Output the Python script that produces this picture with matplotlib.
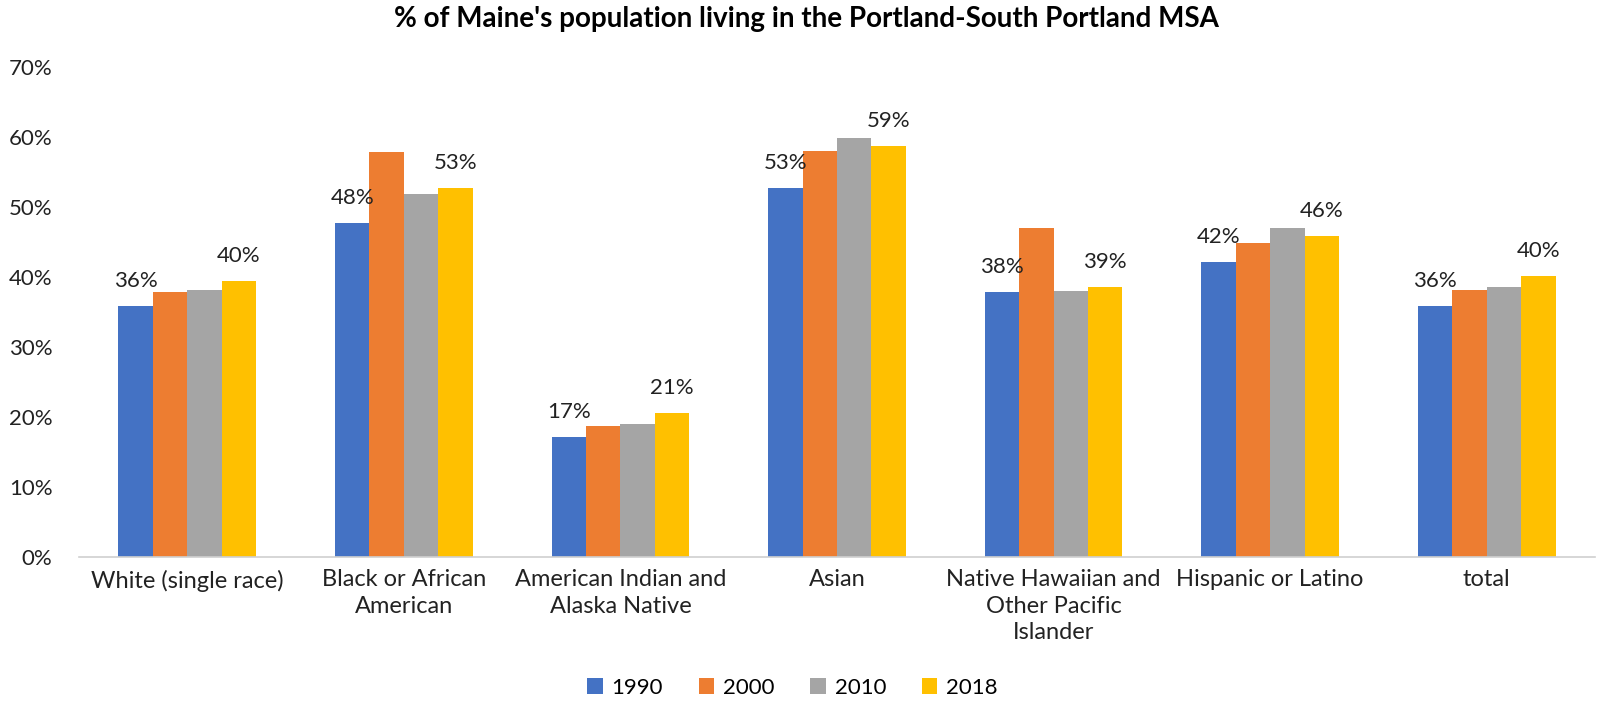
import numpy as np
import matplotlib
matplotlib.use("Agg")
import matplotlib.pyplot as plt
from matplotlib.ticker import PercentFormatter

plt.rcParams['font.family'] = ['Lato', 'DejaVu Sans']

categories = ["White (single race)", "Black or African\nAmerican", "American Indian and\nAlaska Native",
              "Asian", "Native Hawaiian and\nOther Pacific\nIslander", "Hispanic or Latino", "total"]
years = ["1990", "2000", "2010", "2018"]
v1990 = [0.358, 0.477, 0.172, 0.527, 0.378, 0.422, 0.359]
v2000 = [0.379, 0.579, 0.187, 0.580, 0.470, 0.449, 0.382]
v2010 = [0.382, 0.519, 0.190, 0.598, 0.380, 0.470, 0.386]
v2018 = [0.395, 0.527, 0.206, 0.587, 0.386, 0.459, 0.401]
colors = ['#4472C4', '#ED7D31', '#A5A5A5', '#FFC000']

series = [v1990, v2000, v2010, v2018]
labelled = ["1990", "2018"]

fig = plt.figure(figsize=(16.01, 7.21), dpi=100)
ax = fig.add_axes([79/1601, 1 - 557/721, (1595-79)/1601, (557-67)/721])

x = np.arange(len(categories))
w = 0.159
for i, (vals, yr, c) in enumerate(zip(series, years, colors)):
    bars = ax.bar(x + (i - 1.5) * w, vals, w, color=c, label=yr)
    if yr in labelled:
        for b, v in zip(bars, vals):
            ax.annotate(f"{v*100:.0f}%", (b.get_x() + b.get_width() / 2, v),
                        xytext=(0, 18), textcoords='offset points',
                        ha='center', va='center', fontsize=16, color='#222222')

ax.set_ylim(0, 0.7)
ax.set_xlim(-0.5, len(categories) - 0.5)
ax.set_yticks(np.arange(0, 0.71, 0.1))
ax.yaxis.set_major_formatter(PercentFormatter(1.0, decimals=0))
ax.set_xticks(x)
ax.set_xticklabels(categories, fontsize=17, va='top', linespacing=1.3)
ax.tick_params(axis='both', length=0, colors='#222222')
ax.tick_params(axis='y', labelsize=16, pad=19)
ax.tick_params(axis='x', pad=9)
for s in ['top', 'right', 'left']:
    ax.spines[s].set_visible(False)
ax.spines['bottom'].set_color('#D0D0D0')
ax.spines['bottom'].set_linewidth(1.2)

fig.text(806/1601, 1 - 19/721, "% of Maine's population living in the Portland-South Portland MSA",
         ha='center', va='center', fontsize=20, fontweight='bold')

fig.legend(loc='center', bbox_to_anchor=(0.495, 1 - 688/721), ncol=4, frameon=False,
           fontsize=16, handlelength=0.7, handleheight=0.7, handletextpad=0.4, columnspacing=1.6)

fig.savefig('out.png', dpi=100)
